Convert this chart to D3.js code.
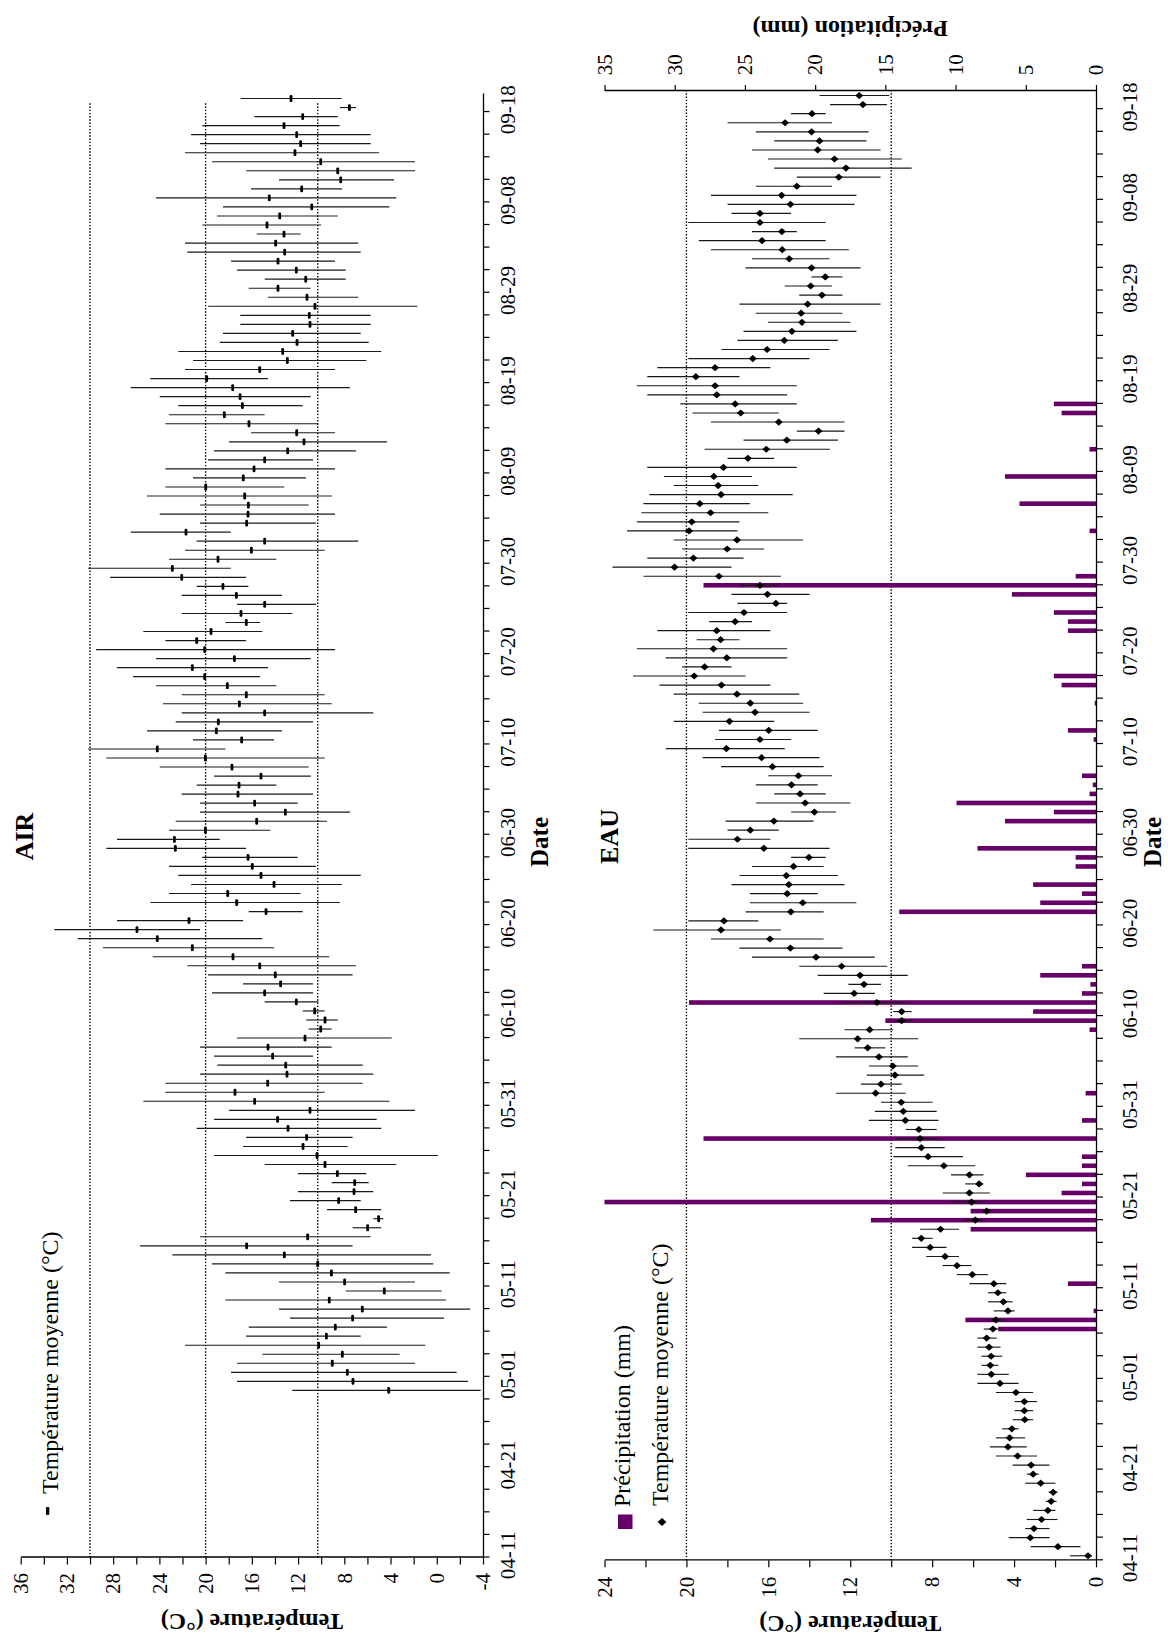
<!DOCTYPE html>
<html><head><meta charset="utf-8">
<script src="https://cdn.jsdelivr.net/npm/d3@7"></script>
<style>
body{margin:0;background:#fff}
svg{display:block;background:#fff}
text{font-family:"Liberation Serif","Times New Roman",serif;fill:#000}
</style>
</head><body>
<svg id="chart" width="1168" height="1648"></svg>
<script>
// ---------------- DATA ----------------
const firstDate = "04-11";            // first category (year irrelevant)
const nDays = 162;                     // 04-11 .. 09-19
const dateTickLabels = ["04-11","04-21","05-01","05-11","05-21","05-31","06-10","06-20","06-30",
  "07-10","07-20","07-30","08-09","08-19","08-29","09-08","09-18"];
const airTempTicks = [36,32,28,24,20,16,12,8,4,0,-4];
const eauTempTicks = [24,20,16,12,8,4,0];
const precipTicks = [35,30,25,20,15,10,5,0];
const airRefLines = [30,20,10.3];
const eauRefLines = [20,10];

// AIR: daily mean / max / min temperature (°C), from 04-29 to 09-19
const airStart = "04-29";
const airMean = [4.16,7.25,7.74,9.04,8.17,10.22,9.55,8.78,7.28,6.44,
 9.30,4.54,7.97,9.12,10.30,13.19,16.45,11.17,5.98,5.03,
 7.02,8.49,7.16,7.10,8.60,9.67,10.36,11.57,11.26,12.87,
 13.77,10.97,15.76,17.46,14.63,12.96,13.07,14.20,14.60,11.40,
 10.04,9.67,10.56,12.15,14.89,13.51,13.97,15.32,17.63,21.15,
 24.18,25.94,21.44,14.77,17.31,18.09,14.08,15.21,15.96,16.33,
 22.62,22.70,20.02,15.58,13.10,15.76,17.20,17.11,15.21,17.72,
 20.02,24.18,16.88,19.07,18.90,14.89,17.08,16.48,18.12,20.08,
 21.15,17.51,20.08,20.77,19.53,16.48,16.94,14.89,17.34,18.50,
 22.07,22.88,18.93,16.04,14.89,21.70,16.45,16.33,16.30,16.62,
 19.99,16.74,15.81,14.89,12.90,11.49,12.12,16.25,18.38,16.82,
 17.02,17.66,19.91,15.32,12.93,13.33,12.09,12.47,10.97,11.03,
 10.54,11.23,13.74,11.34,12.15,13.74,13.16,13.94,13.22,14.69,
 13.59,10.82,14.49,11.69,8.31,8.57,10.04,12.27,11.78,12.12,
 13.22,11.60,7.56,12.61];
const airMax = [12.50,17.28,17.80,17.28,15.09,21.78,16.50,16.27,12.70,13.65,
 18.29,7.88,13.65,18.29,19.45,22.88,25.68,20.48,7.28,5.49,
 9.50,12.70,12.01,9.09,12.01,14.89,19.27,16.76,16.50,20.77,
 19.27,17.98,25.39,23.48,23.48,20.48,18.99,19.27,20.48,17.28,
 11.08,11.29,11.60,14.89,19.45,16.76,19.79,21.58,24.58,28.88,
 31.07,33.09,27.67,16.27,24.78,23.17,21.26,22.36,23.17,20.30,
 28.59,27.67,23.17,22.59,20.48,20.48,22.07,20.77,19.27,23.97,
 28.59,30.17,21.09,25.07,22.59,22.07,23.69,22.07,24.29,26.28,
 27.67,24.29,29.48,23.48,25.39,18.29,22.07,17.28,22.07,20.77,
 28.27,30.17,23.17,21.78,20.77,26.48,20.48,23.97,20.48,25.07,
 23.48,21.09,23.48,19.79,19.27,17.98,16.07,23.48,23.17,22.36,
 23.97,26.48,24.78,21.78,21.09,22.36,18.78,18.50,17.00,17.00,
 19.79,14.60,16.27,14.89,17.28,17.80,21.58,21.78,15.58,20.28,
 18.99,18.50,24.29,16.07,13.65,16.50,19.45,21.78,20.48,21.26,
 20.28,15.78,8.37,16.97];
const airMin = [-3.80,-2.70,-1.72,1.88,3.21,0.99,6.58,4.31,-0.63,-2.90,
 -0.80,-0.42,1.88,-1.12,0.30,0.50,7.28,5.72,4.80,4.62,
 4.80,6.58,5.49,5.89,6.09,3.50,-0.11,7.71,7.28,4.80,
 5.20,1.88,4.10,9.70,6.41,5.49,6.41,10.71,9.09,3.90,
 9.09,8.57,9.70,10.25,10.71,10.71,7.28,6.99,9.30,14.08,
 15.09,20.48,16.76,11.60,8.40,11.78,8.20,6.58,10.45,12.04,
 16.50,18.78,14.40,9.50,7.51,12.04,10.71,13.88,10.91,11.08,
 9.70,18.29,14.08,13.39,10.71,5.49,9.09,9.70,13.88,15.29,
 14.60,10.91,8.80,16.50,15.09,15.29,12.50,10.45,13.39,16.30,
 16.50,17.83,13.88,9.70,6.79,17.83,10.45,8.80,11.08,9.09,
 13.19,11.31,8.80,10.71,6.99,4.31,8.80,10.25,14.89,11.60,
 10.91,7.51,14.60,8.80,6.09,4.80,5.89,6.58,5.72,5.72,
 1.68,6.79,10.91,7.88,7.88,8.80,6.58,6.79,11.78,10.02,
 8.57,4.10,3.50,8.20,3.70,1.88,1.88,5.00,5.72,5.72,
 8.40,8.57,6.99,8.23];

// EAU: daily mean / max / min water temperature (°C), from 04-11 to 09-19
const eauMean = [0.39,1.86,3.21,3.03,2.66,2.35,2.19,2.09,2.70,3.07,
 3.17,3.83,4.30,4.22,4.11,3.48,3.50,3.50,3.91,4.69,
 5.11,5.16,5.12,5.22,5.34,5.03,4.89,4.30,4.52,4.79,
 4.99,6.04,6.79,7.37,8.10,8.53,7.59,5.89,5.34,6.08,
 6.18,5.71,6.18,7.43,8.20,8.53,8.59,8.65,9.31,9.41,
 9.51,10.76,10.50,9.82,9.92,10.60,11.15,11.64,11.05,9.49,
 9.49,10.70,11.81,11.33,11.52,12.42,13.67,14.92,15.92,18.31,
 18.17,14.90,14.32,15.08,15.00,15.12,14.77,14.02,16.22,17.51,
 16.88,15.73,13.75,14.20,14.45,14.87,14.53,15.80,16.33,18.05,
 16.41,15.98,17.90,16.65,16.88,17.53,18.29,19.62,19.11,18.03,
 18.68,18.33,18.52,17.62,17.19,15.63,16.04,16.41,18.41,20.58,
 19.66,18.01,17.53,19.87,19.74,18.82,19.35,18.31,18.45,18.66,
 18.19,17.00,16.10,15.10,13.55,15.49,17.35,17.62,18.52,18.60,
 19.54,18.60,16.76,16.06,15.22,14.85,14.36,14.40,14.08,13.38,
 13.93,13.22,13.89,14.98,15.32,16.31,15.34,16.41,16.41,14.92,
 15.35,14.61,12.56,12.21,12.77,13.59,13.50,13.89,15.18,13.87,
 11.38,11.56];
const eauMax = [1.27,3.19,4.26,3.46,3.38,3.07,2.46,2.31,3.46,3.38,
 4.07,4.89,5.18,4.89,4.58,4.07,3.97,3.97,4.89,5.79,
 5.79,5.59,5.59,5.79,5.79,5.48,5.28,4.99,5.28,5.28,
 6.18,6.79,7.49,8.29,8.98,8.98,8.59,6.49,5.50,7.08,
 7.49,6.38,7.08,9.19,9.90,9.80,9.80,9.29,11.09,10.80,
 10.50,12.69,11.48,11.19,11.09,12.69,11.79,14.49,12.28,9.90,
 9.90,12.40,13.30,12.09,13.59,14.49,16.80,17.41,18.80,21.61,
 19.91,17.11,16.90,16.90,17.80,17.41,16.80,14.89,19.91,19.91,
 17.99,18.09,14.89,16.61,15.71,16.61,16.00,18.31,19.21,21.01,
 18.60,18.41,20.62,19.21,19.40,20.62,21.32,22.61,20.21,21.01,
 22.42,19.50,21.42,18.89,19.91,17.51,17.80,17.41,22.10,23.61,
 21.91,20.21,20.62,22.90,22.42,22.20,22.10,21.81,20.62,21.10,
 21.91,17.99,19.11,17.21,14.61,18.80,19.70,20.30,21.91,22.42,
 21.91,21.42,19.91,18.29,17.51,17.21,16.02,16.61,17.41,14.49,
 15.20,13.89,17.11,16.80,18.80,19.40,16.80,19.91,17.80,17.99,
 18.80,16.61,14.61,15.71,16.02,16.80,15.71,16.61,17.99,14.89,
 12.99,13.50];
const eauMin = [0.20,0.76,2.27,2.27,1.88,1.98,1.92,1.88,1.98,2.80,
 2.27,2.88,3.38,3.46,3.78,3.07,3.07,2.88,3.07,3.78,
 4.26,4.77,4.58,4.66,4.85,4.66,4.46,3.97,4.07,4.38,
 4.38,5.28,6.08,6.69,7.30,7.98,6.69,5.50,5.18,5.59,
 5.18,5.50,5.50,5.89,6.49,7.39,7.69,7.78,7.69,7.78,
 7.98,9.29,9.49,8.39,8.68,9.19,10.29,8.68,9.90,9.00,
 9.00,9.29,10.80,10.50,9.19,10.19,10.80,12.38,13.30,15.39,
 16.49,13.30,11.70,13.59,12.28,12.60,13.30,13.20,13.01,15.90,
 15.49,13.79,12.69,11.99,13.20,13.59,12.89,13.30,13.50,15.20,
 14.89,13.59,15.71,13.99,14.30,14.49,15.90,17.11,17.80,15.08,
 15.08,17.41,15.90,16.80,15.08,15.08,13.99,15.49,15.39,17.80,
 17.21,16.20,14.30,17.51,17.41,16.00,16.90,14.81,16.49,16.80,
 14.61,15.71,12.99,12.60,12.28,12.28,15.49,14.61,15.08,14.61,
 17.41,15.90,13.99,13.01,12.60,11.70,11.99,12.38,10.52,12.38,
 12.89,12.38,11.50,13.01,12.07,13.20,14.61,13.20,14.89,11.79,
 11.70,12.89,10.52,9.00,9.49,10.52,11.21,11.11,12.89,13.20,
 10.21,10.09];

// Précipitation (mm), days with rain
const precipDates = ["05-06","05-07","05-08","05-11","05-17","05-18","05-19","05-20","05-21","05-22",
 "05-23","05-24","05-25","05-27","05-29","06-01","06-08","06-09","06-10","06-11",
 "06-12","06-13","06-14","06-15","06-21","06-22","06-23","06-24","06-26","06-27",
 "06-28","07-01","07-02","07-03","07-04","07-05","07-06","07-10","07-11","07-14",
 "07-16","07-17","07-22","07-23","07-24","07-26","07-27","07-28","08-02","08-05",
 "08-08","08-11","08-15","08-16"];
const precipValues = [6.96,9.30,0.17,2.00,8.93,16.03,8.93,35.0,2.45,1.00,
 4.99,1.00,1.00,27.95,1.00,0.74,0.46,15.00,4.48,28.98,
 1.00,0.40,3.97,1.00,14.01,3.97,1.00,4.48,1.45,1.45,
 8.44,6.48,3.00,9.93,0.46,0.23,1.00,0.17,2.00,0.09,
 2.45,3.00,2.00,2.00,3.00,5.99,27.95,1.45,0.46,5.45,
 6.48,0.46,2.45,3.00];

// ---------------- CHART ----------------
const fmt = d3.timeFormat("%m-%d");
const start = new Date(2001, +firstDate.slice(0,2) - 1, +firstDate.slice(3));
const categories = d3.range(nDays).map(i => fmt(d3.timeDay.offset(start, i)));
const airOffset = categories.indexOf(airStart);

const PURPLE = "#660066";
const FONT = '"Liberation Serif","Times New Roman",serif';

const svg = d3.select("#chart");
svg.append("rect").attr("width",1168).attr("height",1648).attr("fill","#fff");
// landscape chart rotated 90° counter-clockwise onto the portrait page
const g = svg.append("g").attr("transform","translate(0,1648) rotate(-90)");

function styleAxis(sel, size){
  sel.attr("font-family", FONT).attr("font-size", size);
  sel.selectAll("path.domain").attr("stroke","#000").attr("stroke-width",1.3);
  sel.selectAll(".tick line").attr("stroke","#000").attr("stroke-width",1.2);
  sel.selectAll(".tick text").attr("fill","#000");
}

// ===== AIR panel =====
const xA = d3.scaleLinear().domain([0, nDays]).range([90.5, 1554]);
const yA = d3.scaleLinear().domain([-4, 36]).range([483, 20.7]);

// reference dotted lines
g.append("g").selectAll("line").data(airRefLines).join("line")
  .attr("x1", xA(0)).attr("x2", xA(161))
  .attr("y1", d => yA(d)).attr("y2", d => yA(d))
  .attr("stroke","#000").attr("stroke-width",1.4).attr("stroke-dasharray","1.4,1.8");

// temperature axis
const airTempAxis = g.append("g").attr("transform",`translate(${xA(0)},0)`)
  .call(d3.axisLeft(yA).tickValues(d3.range(-4, 37, 2)).tickSize(7).tickSizeOuter(0).tickPadding(8.5)
    .tickFormat(d => airTempTicks.includes(d) ? String(d) : ""));
styleAxis(airTempAxis, 21);

// date axis
const airDateAxis = g.append("g").attr("transform",`translate(0,${yA(-4)})`)
  .call(d3.axisBottom(xA).tickValues(d3.range(0, 160.1, 2.5)).tickSize(6.5).tickSizeOuter(0).tickFormat(""));
styleAxis(airDateAxis, 21);
g.append("g").selectAll("text").data(dateTickLabels).join("text")
  .attr("x", d => xA(categories.indexOf(d) + 0.25)).attr("y", 515)
  .attr("text-anchor","middle").attr("font-size",21).text(d => d);

// error bars + means
const airIdx = d3.range(airMean.length);
g.append("g").selectAll("line").data(airIdx).join("line")
  .attr("x1", j => xA(airOffset + j + 0.5)).attr("x2", j => xA(airOffset + j + 0.5))
  .attr("y1", j => yA(airMax[j])).attr("y2", j => yA(airMin[j]))
  .attr("stroke","#1a1a1a").attr("stroke-width",1.15);
g.append("g").selectAll("rect").data(airIdx).join("rect")
  .attr("x", j => xA(airOffset + j + 0.5) - 3.4).attr("y", j => yA(airMean[j]) - 1.4)
  .attr("width",6.8).attr("height",2.8).attr("rx",1.2).attr("fill","#000");

// titles
g.append("text").attr("x",806).attr("y",548).attr("text-anchor","middle")
  .attr("font-size",25).attr("font-weight","bold").text("Date");
g.append("text").attr("x",811.5).attr("y",33).attr("text-anchor","middle")
  .attr("font-size",26).attr("font-weight","bold").text("AIR");
g.append("text").attr("transform",`translate(34,${(yA(36)+yA(-4))/2}) rotate(-90)`)
  .attr("text-anchor","middle").attr("font-size",24).attr("font-weight","bold").text("Température (°C)");
// legend
g.append("rect").attr("x",133).attr("y",46).attr("width",8).attr("height",3.3).attr("rx",1).attr("fill","#000");
g.append("text").attr("x",154).attr("y",57.5).attr("font-size",24).text("Température moyenne (°C)");

// ===== EAU panel =====
const xE = d3.scaleLinear().domain([0, nDays]).range([87.7, 1557]);
const yE = d3.scaleLinear().domain([0, 24]).range([1096, 604.5]);
const yP = d3.scaleLinear().domain([0, 35]).range([1096, 604.5]);

g.append("g").selectAll("line").data(eauRefLines).join("line")
  .attr("x1", xE(0)).attr("x2", xE(nDays))
  .attr("y1", d => yE(d)).attr("y2", d => yE(d))
  .attr("stroke","#000").attr("stroke-width",1.4).attr("stroke-dasharray","1.4,1.8");

// precipitation bars
g.append("g").selectAll("rect").data(precipDates).join("rect")
  .attr("x", (d,k) => xE(categories.indexOf(d) + 0.5) - 2.3)
  .attr("width", 4.6)
  .attr("y", (d,k) => yP(precipValues[k]))
  .attr("height", (d,k) => yP(0) - yP(precipValues[k]))
  .attr("fill", PURPLE);

const eauTempAxis = g.append("g").attr("transform",`translate(${xE(0)},0)`)
  .call(d3.axisLeft(yE).tickValues(d3.range(0, 25, 2)).tickSize(7).tickSizeOuter(0).tickPadding(9.4)
    .tickFormat(d => eauTempTicks.includes(d) ? String(d) : ""));
styleAxis(eauTempAxis, 21);

const precipAxis = g.append("g").attr("transform",`translate(${xE(nDays)},0)`)
  .call(d3.axisRight(yP).tickValues(precipTicks).tickSize(6).tickSizeOuter(0).tickPadding(9.7)
    .tickFormat(d => String(d)));
styleAxis(precipAxis, 21);

const eauDateAxis = g.append("g").attr("transform",`translate(0,${yE(0)})`)
  .call(d3.axisBottom(xE).tickValues(d3.range(0, 160.1, 2.5)).tickSize(7).tickSizeOuter(0).tickFormat(""));
styleAxis(eauDateAxis, 21);
g.append("g").selectAll("text").data(dateTickLabels).join("text")
  .attr("x", d => xE(categories.indexOf(d) + 0.25)).attr("y", 1137)
  .attr("text-anchor","middle").attr("font-size",21).text(d => d);

const eauIdx = d3.range(eauMean.length);
g.append("g").selectAll("line").data(eauIdx).join("line")
  .attr("x1", i => xE(i + 0.5)).attr("x2", i => xE(i + 0.5))
  .attr("y1", i => yE(eauMax[i])).attr("y2", i => yE(eauMin[i]))
  .attr("stroke","#1a1a1a").attr("stroke-width",1.15);
const diamond = "M-3.6,0L0,-4L3.6,0L0,4Z";
g.append("g").selectAll("path").data(eauIdx).join("path")
  .attr("transform", i => `translate(${xE(i + 0.5)},${yE(eauMean[i])})`)
  .attr("d", diamond).attr("fill","#000");

// titles
g.append("text").attr("x",806).attr("y",1161).attr("text-anchor","middle")
  .attr("font-size",25).attr("font-weight","bold").text("Date");
g.append("text").attr("x",811.5).attr("y",618).attr("text-anchor","middle")
  .attr("font-size",26).attr("font-weight","bold").text("EAU");
g.append("text").attr("transform",`translate(32,${(yE(0)+yE(24))/2}) rotate(-90)`)
  .attr("text-anchor","middle").attr("font-size",24).attr("font-weight","bold").text("Température (°C)");
g.append("text").attr("transform",`translate(1627,${(yP(0)+yP(35))/2}) rotate(-90)`)
  .attr("text-anchor","middle").attr("font-size",24).attr("font-weight","bold").text("Précipitation (mm)");

// legend
g.append("rect").attr("x",119).attr("y",618).attr("width",14.5).attr("height",14.5).attr("fill",PURPLE);
g.append("text").attr("x",141).attr("y",630).attr("font-size",24).text("Précipitation (mm)");
g.append("path").attr("transform","translate(126,662)").attr("d","M-4,0L0,-4.4L4,0L0,4.4Z").attr("fill","#000");
g.append("text").attr("x",142).attr("y",668).attr("font-size",24).text("Température moyenne (°C)");
</script>
</body></html>
